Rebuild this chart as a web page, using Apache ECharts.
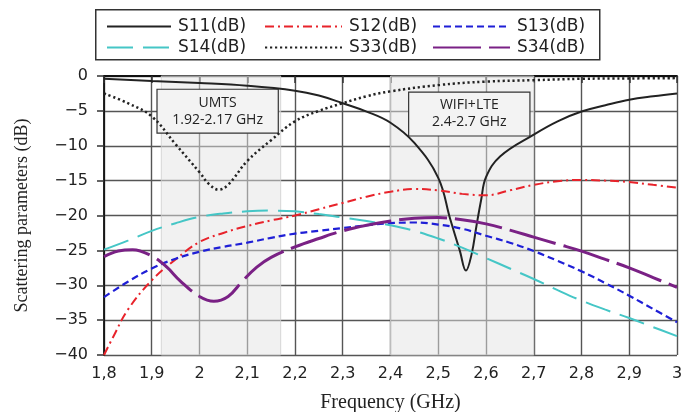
<!DOCTYPE html>
<html>
<head>
<meta charset="utf-8">
<script src="https://cdn.jsdelivr.net/npm/echarts@6/dist/echarts.min.js"></script>
<style>
html,body{margin:0;padding:0;background:#fff;}
#chart{width:690px;height:412px;}
</style>
</head>
<body>
<div id="chart"></div>
<script>
// ---------- data ----------
const xTicks = ['1,8','1,9','2','2,1','2,2','2,3','2,4','2,5','2,6','2,7','2,8','2,9','3'];
const seriesNames = ['S11(dB)','S12(dB)','S13(dB)','S14(dB)','S33(dB)','S34(dB)'];

const s11Freq = [1.8,1.9,2.0,2.1,2.2,2.25,2.3,2.35,2.4,2.45,2.5,2.525,2.545,2.558,2.57,2.58,2.59,2.6,2.63,2.7,2.75,2.8,2.85,2.9,2.95,3.0];
const s11Db   = [-0.4,-0.7,-1.0,-1.4,-2.1,-2.8,-3.9,-5.1,-6.7,-9.6,-14.6,-20.5,-25.0,-27.9,-25.5,-21.5,-17.7,-14.5,-11.5,-8.4,-6.5,-5.1,-4.2,-3.4,-2.9,-2.5];

const s12Freq = [1.8,1.82,1.85,1.9,1.95,2.0,2.05,2.1,2.15,2.2,2.25,2.3,2.35,2.4,2.45,2.5,2.55,2.6,2.65,2.7,2.75,2.8,2.85,2.9,2.95,3.0];
const s12Db   = [-40,-37.3,-33.5,-29.3,-26.3,-23.8,-22.5,-21.5,-20.7,-20.0,-19.1,-18.2,-17.3,-16.6,-16.2,-16.4,-16.9,-17.1,-16.4,-15.6,-15.1,-14.9,-15.0,-15.2,-15.6,-16.0];

const s13Freq = [1.8,1.85,1.9,1.95,2.0,2.05,2.1,2.15,2.2,2.25,2.3,2.35,2.4,2.45,2.5,2.55,2.6,2.65,2.7,2.75,2.8,2.85,2.9,2.95,3.0];
const s13Db   = [-31.7,-29.5,-27.6,-26.2,-25.2,-24.5,-23.9,-23.2,-22.6,-22.2,-21.8,-21.4,-21.1,-21.0,-21.3,-21.9,-22.9,-23.9,-25.1,-26.5,-28.0,-29.7,-31.5,-33.4,-35.3];

const s14Freq = [1.8,1.85,1.9,1.95,2.0,2.05,2.1,2.15,2.2,2.25,2.3,2.35,2.4,2.45,2.5,2.55,2.6,2.65,2.7,2.75,2.8,2.85,2.9,2.95,3.0];
const s14Db   = [-24.9,-23.6,-22.2,-21.1,-20.2,-19.7,-19.4,-19.3,-19.4,-19.8,-20.3,-20.8,-21.4,-22.2,-23.3,-24.6,-26.1,-27.6,-29.1,-30.7,-32.2,-33.5,-34.7,-36.0,-37.3];

const s33Freq = [1.8,1.85,1.9,1.95,2.0,2.02,2.04,2.06,2.1,2.15,2.2,2.25,2.3,2.35,2.4,2.5,2.6,2.7,2.8,2.9,3.0];
const s33Db   = [-2.5,-3.9,-5.8,-9.8,-13.8,-15.5,-16.3,-15.6,-12.2,-9.2,-6.5,-5.0,-3.9,-2.9,-2.2,-1.3,-0.8,-0.6,-0.4,-0.35,-0.3];

const s34Freq = [1.8,1.83,1.86,1.9,1.93,1.96,2.0,2.03,2.06,2.09,2.12,2.15,2.2,2.25,2.3,2.35,2.4,2.45,2.5,2.55,2.6,2.65,2.7,2.75,2.8,2.85,2.9,2.95,3.0];
const s34Db   = [-25.9,-25.1,-24.9,-25.8,-27.3,-29.4,-31.6,-32.3,-31.6,-29.4,-27.4,-26.0,-24.5,-23.3,-22.2,-21.4,-20.8,-20.4,-20.3,-20.6,-21.2,-22.1,-23.1,-24.1,-25.1,-26.3,-27.5,-28.9,-30.3];

const bandUMTS = [1.92, 2.17];
const bandWIFI = [2.4, 2.7];
const boxUMTS = {text: 'UMTS\n1.92-2.17 GHz', x: [1.911, 2.165], y: [-1.9, -8.2]};
const boxWIFI = {text: 'WIFI+LTE\n2.4-2.7 GHz', x: [2.438, 2.692], y: [-2.3, -8.6]};

// ---------- chart ----------
function zip(xs, ys){ return xs.map((x,i)=>[x, ys[i]]); }

const chart = echarts.init(document.getElementById('chart'), null, {renderer:'canvas'});

const styles = [
  {color:'#222222', width:2,   type:'solid'},
  {color:'#e8232b', width:2,   type:[9,4,2,4]},
  {color:'#1f1fd6', width:2.2, type:[7,4]},
  {color:'#45c6c6', width:2,   type:[26,10]},
  {color:'#222222', width:2.5, type:[2.2,2.8]},
  {color:'#7a2185', width:3,   type:[48,8]}
];
const datasets = [zip(s11Freq,s11Db), zip(s12Freq,s12Db), zip(s13Freq,s13Db), zip(s14Freq,s14Db), zip(s33Freq,s33Db), zip(s34Freq,s34Db)];

const series = seriesNames.map((name, i) => ({
  name: name,
  type: 'line',
  data: datasets[i],
  showSymbol: false,
  symbol: 'none',
  smooth: 0.4,
  z: 3,
  color: styles[i].color,
  lineStyle: {color: styles[i].color, width: styles[i].width, type: styles[i].type},
  emphasis: {disabled: true}
}));

// shaded frequency bands (behind curves)
series.push({
  name: 'bands', type: 'line', data: [], silent: true, z: 1,
  markArea: {
    silent: true,
    itemStyle: {color: 'rgba(228,228,228,0.5)', borderColor: 'rgba(205,205,205,0.8)', borderWidth: 1},
    label: {show: false},
    data: [
      [{xAxis: bandUMTS[0]}, {xAxis: bandUMTS[1]}],
      [{xAxis: bandWIFI[0]}, {xAxis: bandWIFI[1]}]
    ]
  }
});
// annotation boxes
const boxLabel = {show: true, position: 'inside', color: '#222', fontFamily: 'Open Sans', fontSize: 14, lineHeight: 17};
series.push({
  name: 'boxes', type: 'line', data: [], silent: true, z: 4,
  markArea: {
    silent: true,
    itemStyle: {color: '#f3f3f3', borderColor: '#333', borderWidth: 1.2},
    label: boxLabel,
    data: [boxUMTS, boxWIFI].map(b => [
      {name: b.text, coord: [b.x[0], b.y[0]]},
      {coord: [b.x[1], b.y[1]]}
    ])
  }
});

const legendCommon = {
  orient: 'vertical', top: 18, itemHeight: 14, itemGap: 4, padding: 0,
  itemStyle: {opacity: 0},
  textStyle: {fontFamily: 'DejaVu Sans', fontSize: 17, color: '#222', lineHeight: 14, padding: [0,0,0,2]},
  selectedMode: false
};

const option = {
  animation: false,
  backgroundColor: '#fff',
  grid: {left: 104, right: 13, top: 76, bottom: 57, containLabel: false, outerBoundsMode: 'none'},
  legend: [
    Object.assign({}, legendCommon, {left: 106, itemWidth: 64, data: ['S11(dB)','S14(dB)']}),
    Object.assign({}, legendCommon, {left: 264, itemWidth: 77, data: ['S12(dB)','S33(dB)']}),
    Object.assign({}, legendCommon, {left: 432, itemWidth: 77, data: ['S13(dB)','S34(dB)']})
  ],
  graphic: [{
    type: 'rect', left: 95, top: 9, silent: true, z: -1,
    shape: {width: 504, height: 50},
    style: {fill: '#fff', stroke: '#333', lineWidth: 1.5}
  }],
  xAxis: {
    type: 'value', min: 1.8, max: 3.0, interval: 0.1,
    name: 'Frequency (GHz)', nameLocation: 'middle', nameGap: 38,
    nameTextStyle: {fontFamily: 'Liberation Serif', fontSize: 20, color: '#222'},
    axisLine: {show: true, lineStyle: {color: '#111', width: 1.8}},
    axisTick: {show: true, inside: false, length: 7, lineStyle: {color: '#333', width: 1.5}},
    axisLabel: {fontFamily: 'DejaVu Sans', fontSize: 16, color: '#222', margin: 11,
      formatter: v => xTicks[Math.round((v - 1.8) * 10)]},
    splitLine: {show: true, lineStyle: {color: '#555', width: 1.4}}
  },
  yAxis: {
    type: 'value', min: -40, max: 0, interval: 5,
    name: 'Scattering parameters (dB)', nameLocation: 'middle', nameGap: 73,
    nameTextStyle: {fontFamily: 'Liberation Serif', fontSize: 18, color: '#222'},
    axisLine: {show: true, onZero: false, lineStyle: {color: '#111', width: 1.8}},
    axisTick: {show: true, inside: false, length: 7, lineStyle: {color: '#333', width: 1.5}},
    axisLabel: {fontFamily: 'DejaVu Sans', fontSize: 16, color: '#222', margin: 16,
      formatter: v => v < 0 ? '\u2212' + (-v) : String(v)},
    splitLine: {show: true, lineStyle: {color: '#555', width: 1.4}}
  },
  series: series
};
chart.setOption(option);
</script>
</body>
</html>
